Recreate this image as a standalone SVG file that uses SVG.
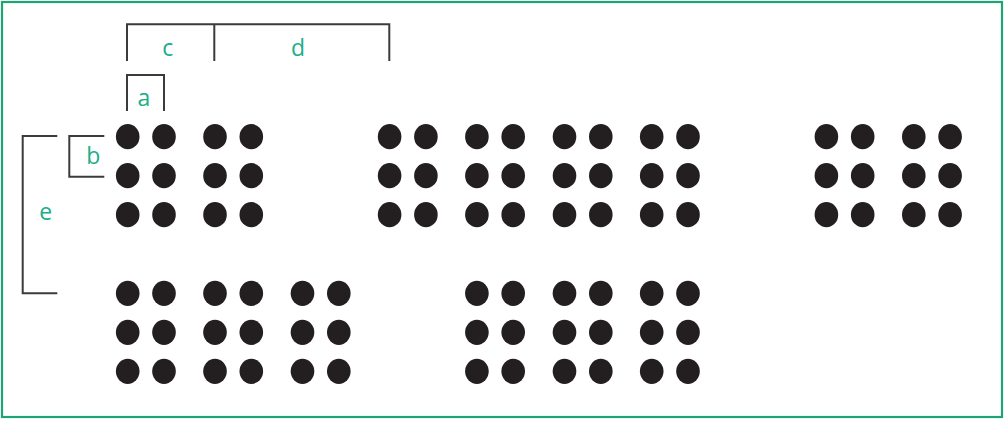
<svg xmlns="http://www.w3.org/2000/svg" width="1005" height="423" viewBox="0 0 1005 423">
<defs>
<style>
.frame{fill:#fff;stroke:#1ea574;stroke-width:2.2}
.br{fill:none;stroke:#3b3b3b;stroke-width:2}
.lbl{font-family:"Open Sans","Noto Sans",sans-serif;font-size:23px;fill:#20ad88;text-anchor:middle}
.dot{fill:#231f20}
</style>
<g id="cell">
<ellipse class="dot" cx="0" cy="0" rx="11.8" ry="12.6"/>
<ellipse class="dot" cx="36.3" cy="0" rx="11.8" ry="12.6"/>
<ellipse class="dot" cx="0" cy="39" rx="11.8" ry="12.6"/>
<ellipse class="dot" cx="36.3" cy="39" rx="11.8" ry="12.6"/>
<ellipse class="dot" cx="0" cy="78" rx="11.8" ry="12.6"/>
<ellipse class="dot" cx="36.3" cy="78" rx="11.8" ry="12.6"/>
</g>
</defs>
<rect class="frame" x="2" y="2" width="1000" height="415"/>
<g id="connectors">
<path class="br" d="M127,61 V24.3 H389.3 V61 M214.3,24.3 V61"/>
<path class="br" d="M127,111 V75 H164 V111"/>
<path class="br" d="M104.3,136 H69.3 V176.7 H104.3"/>
<path class="br" d="M57.3,136 H22.7 V293.3 H57.3"/>
</g>
<g id="labels">
<text class="lbl" x="167.7" y="56">c</text>
<text class="lbl" x="298" y="56">d</text>
<text class="lbl" x="144" y="106">a</text>
<text class="lbl" x="93.3" y="164">b</text>
<text class="lbl" x="45.7" y="220">e</text>
</g>
<g id="row1">
<use href="#cell" x="127.7" y="136.7"/>
<use href="#cell" x="215" y="136.7"/>
<use href="#cell" x="389.6" y="136.7"/>
<use href="#cell" x="476.9" y="136.7"/>
<use href="#cell" x="564.5" y="136.7"/>
<use href="#cell" x="651.7" y="136.7"/>
<use href="#cell" x="826.4" y="136.7"/>
<use href="#cell" x="913.8" y="136.7"/>
</g>
<g id="row2">
<use href="#cell" x="127.7" y="293.3"/>
<use href="#cell" x="215" y="293.3"/>
<use href="#cell" x="302.5" y="293.3"/>
<use href="#cell" x="476.9" y="293.3"/>
<use href="#cell" x="564.5" y="293.3"/>
<use href="#cell" x="651.7" y="293.3"/>
</g>
</svg>
